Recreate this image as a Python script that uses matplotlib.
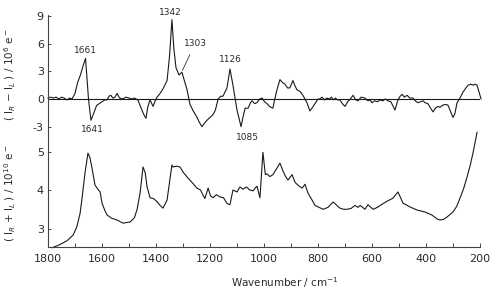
import numpy as np
import matplotlib
matplotlib.use("Agg")
from matplotlib import pyplot as plt

# ROA (difference) spectrum, I_R - I_L in 1e6 e-
roaWavenumber = [1800, 1790, 1780, 1770, 1760, 1750, 1740, 1730, 1720, 1711, 1700, 1690, 1680, 1670, 1661,
                 1655, 1650, 1641, 1630, 1620, 1610, 1600, 1590, 1581, 1574, 1567, 1560, 1552, 1544, 1535,
                 1522, 1512, 1500, 1490, 1480, 1467, 1455, 1445, 1437, 1430, 1422, 1411, 1403, 1396, 1385,
                 1374, 1359, 1350, 1341, 1334, 1326, 1315, 1308, 1304, 1295, 1285, 1274, 1262, 1248, 1240,
                 1230, 1220, 1211, 1200, 1189, 1180, 1170, 1160, 1152, 1137, 1126, 1115, 1100, 1085, 1078,
                 1070, 1059, 1050, 1044, 1035, 1026, 1016, 1007, 998, 989, 980, 967, 960, 952, 941, 932,
                 922, 913, 904, 893, 885, 878, 866, 856, 848, 841, 830, 820, 811, 800, 793, 785, 776, 767,
                 758, 750, 744, 735, 728, 719, 710, 700, 690, 680, 670, 660, 652, 640, 626, 615, 608, 600,
                 590, 580, 570, 560, 550, 541, 530, 515, 505, 496, 488, 480, 470, 460, 448, 440, 430, 420,
                 410, 404, 393, 385, 374, 365, 356, 348, 340, 330, 319, 310, 300, 293, 285, 274, 263, 252,
                 244, 235, 225, 218, 211, 196]
roaValue = [0.1, 0.2, 0.1, 0.2, 0.0, 0.2, 0.1, -0.1, 0.1, 0.0, 0.6, 1.8, 2.6, 3.6, 4.4,
            2.0, 0.0, -2.3, -1.5, -0.7, -0.5, -0.3, -0.1, -0.1, 0.3, 0.4, 0.1, 0.2, 0.6, 0.1,
            0.0, 0.2, 0.1, 0.0, 0.1, -0.1, -1.0, -1.7, -2.1, -0.8, -0.1, -0.8, -0.2, 0.2, 0.6,
            1.1, 2.0, 4.6, 8.6, 5.5, 3.4, 2.6, 2.8, 2.9, 2.0, 1.0, -0.6, -1.3, -2.0, -2.5,
            -3.0, -2.6, -2.3, -2.0, -1.7, -1.2, 0.0, 0.3, 0.3, 1.2, 3.25, 1.5, -1.2, -3.0, -2.0,
            -1.0, -1.0, -0.4, -0.2, -0.5, -0.4, 0.0, 0.1, -0.3, -0.5, -0.8, -1.0, 0.0, 1.0, 2.1, 1.8,
            1.6, 1.2, 1.2, 2.0, 1.4, 1.0, 0.8, 0.4, 0.0, -0.4, -1.3, -0.9, -0.5, 0.0, 0.0, 0.2, -0.1, 0.1,
            0.0, 0.2, -0.1, 0.1, -0.1, -0.1, -0.5, -0.8, -0.3, 0.0, 0.4, -0.1, -0.2, 0.2, 0.1, -0.2, -0.1, -0.4,
            -0.2, -0.3, -0.1, -0.2, 0.0, -0.2, -0.3, -1.2, -0.2, 0.3, 0.5, 0.2, 0.4, 0.1, 0.1, -0.2, -0.4, -0.3,
            -0.2, -0.4, -0.5, -0.9, -1.4, -1.0, -0.8, -0.9, -0.7, -0.6, -0.65, -1.3, -2.0, -1.6, -0.4, 0.1, 0.75, 1.2,
            1.5, 1.6, 1.5, 1.6, 1.5, 0.0]

# Raman (sum) spectrum, I_R + I_L in 1e10 e-
ramanWavenumber = [1785, 1760, 1730, 1707, 1693, 1681, 1672, 1663, 1652, 1645, 1637, 1626, 1615, 1607,
                   1600, 1590, 1581, 1565, 1544, 1522, 1496, 1480, 1470, 1459, 1448, 1440, 1433, 1422,
                   1410, 1396, 1385, 1374, 1359, 1348, 1341, 1337, 1325, 1311, 1298, 1285, 1267, 1248,
                   1235, 1226, 1219, 1207, 1198, 1189, 1176, 1163, 1150, 1137, 1126, 1115, 1100, 1089,
                   1078, 1065, 1052, 1040, 1033, 1026, 1015, 1004, 995, 989, 978, 967, 952, 941, 930,
                   920, 911, 896, 885, 870, 859, 848, 837, 822, 811, 796, 781, 763, 744, 730, 719, 705,
                   693, 678, 663, 652, 644, 626, 615, 596, 580, 570, 544, 522, 504, 485, 459, 433, 404,
                   378, 359, 348, 335, 322, 300, 286, 274, 260, 248, 236, 226, 211]
ramanValue = [2.5, 2.57, 2.68, 2.83, 3.05, 3.4, 3.9, 4.44, 4.96, 4.85, 4.57, 4.13, 4.02, 3.95,
              3.66, 3.48, 3.35, 3.27, 3.22, 3.14, 3.17, 3.28, 3.5, 3.92, 4.6, 4.45, 4.08, 3.8,
              3.78, 3.7, 3.6, 3.53, 3.74, 4.3, 4.65, 4.6, 4.62, 4.6, 4.45, 4.34, 4.2, 4.05,
              4.0, 3.87, 3.78, 4.05, 3.85, 3.8, 3.88, 3.82, 3.8, 3.65, 3.62, 4.0, 3.95, 4.08,
              4.02, 4.08, 4.0, 3.98, 4.05, 4.1, 3.8, 4.98, 4.4, 4.42, 4.35, 4.4, 4.57, 4.7, 4.5,
              4.35, 4.26, 4.4, 4.2, 4.1, 4.05, 4.15, 3.92, 3.74, 3.6, 3.55, 3.5, 3.55, 3.69, 3.6, 3.53, 3.5,
              3.5, 3.52, 3.6, 3.55, 3.6, 3.5, 3.62, 3.5, 3.55, 3.6, 3.71, 3.79, 3.95, 3.66, 3.56, 3.48, 3.43,
              3.35, 3.25, 3.22, 3.24, 3.3, 3.43, 3.58, 3.79, 4.05, 4.34, 4.65, 4.96, 5.5]

# peak labels: (text, label x, label y, arrow target or None)
peakLabels = [("1661", 1661, 5.3, None), ("1641", 1637, -3.3, None), ("1342", 1348, 9.35, None),
              ("1303", 1255, 6.0, (1302, 3.1)), ("1126", 1126, 4.3, None), ("1085", 1063, -4.15, None)]

plt.rcParams['font.family'] = ['DejaVu Sans']
plt.rcParams['axes.unicode_minus'] = False
textColor = '#2a2a2a'

fig = plt.figure(figsize=(4.96, 2.89), dpi=100)
axTop = fig.add_axes([48/496, 1-130/289, 432/496, 115/289])
axBot = fig.add_axes([48/496, 1-247/289, 432/496, 117/289])

axTop.plot(roaWavenumber, roaValue, color='#1a1a1a', lw=0.8, clip_on=False)
axTop.axhline(0, color='#1a1a1a', lw=0.8)
axTop.set_xlim(1800, 200)
axTop.set_ylim(-3.36, 9.1)
axTop.set_yticks([9, 6, 3, 0, -3])
for s in ['top', 'right', 'bottom']:
    axTop.spines[s].set_visible(False)
axTop.tick_params(axis='x', bottom=False, labelbottom=False)
axTop.patch.set_alpha(0)

axBot.plot(ramanWavenumber, ramanValue, color='#1a1a1a', lw=0.8, clip_on=False)
axBot.set_xlim(1800, 200)
axBot.set_ylim(2.52, 5.56)
axBot.set_yticks([5, 4, 3])
axBot.set_xticks(np.arange(1800, 199, -200))
axBot.set_xticks(np.arange(1800, 199, -100), minor=True)
for s in ['top', 'right']:
    axBot.spines[s].set_visible(False)
axBot.patch.set_alpha(0)

for ax in (axTop, axBot):
    ax.spines['left'].set_linewidth(0.8)
    ax.spines['left'].set_color('#444444')
    ax.tick_params(axis='y', direction='in', length=2, width=0.6, labelsize=8, colors=textColor, pad=3)
axBot.spines['bottom'].set_linewidth(0.8)
axBot.spines['bottom'].set_color('#444444')
axBot.tick_params(axis='x', which='both', direction='in', length=3, width=0.6, labelsize=8,
                  colors=textColor, pad=5)

for txt, lx, ly, target in peakLabels:
    if target is None:
        axTop.text(lx, ly, txt, fontsize=6.5, ha='center', va='center', color=textColor, clip_on=False)
    else:
        axTop.annotate(txt, xy=target, xytext=(lx, ly), fontsize=6.5, ha='center', va='center',
                       color=textColor, annotation_clip=False,
                       arrowprops=dict(arrowstyle='-', color='#333333', lw=0.6, shrinkA=3, shrinkB=0))

fig.text(285/496, 1-283/289, 'Wavenumber / cm$^{-1}$', fontsize=7.5, ha='center', va='center', color=textColor)
fig.text(10/496, 1-75/289, '( I$_R$ − I$_L$ ) / 10$^6$ e$^-$', fontsize=7.5, rotation=90,
         ha='center', va='center', color=textColor)
fig.text(10/496, 1-193/289, '( I$_R$ + I$_L$ ) / 10$^{10}$ e$^-$', fontsize=7.5, rotation=90,
         ha='center', va='center', color=textColor)

fig.savefig('out.png', dpi=100)
